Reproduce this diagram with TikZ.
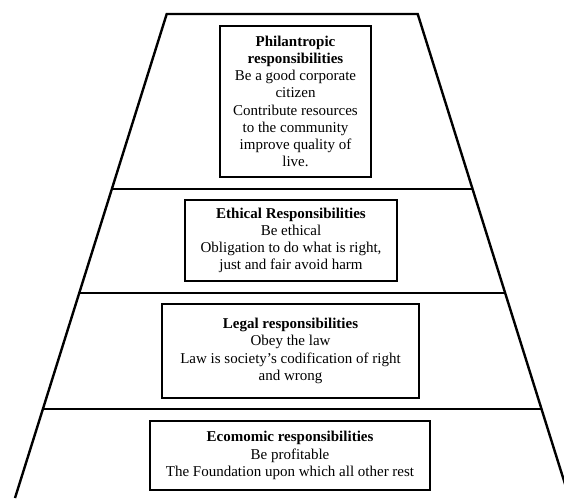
\documentclass[tikz,border=0pt]{standalone}
\usepackage{fontspec}
\setmainfont{Liberation Serif}
\begin{document}
\begin{tikzpicture}[x=1pt,y=-1pt,
  side/.style={line width=2.4pt, line join=miter},
  divider/.style={line width=1.8pt},
  tierbox/.style={draw, line width=2.2pt, inner sep=0pt, align=center,
    font=\fontsize{15}{17.25}\selectfont},
]
\useasboundingbox (0,0) rectangle (564,498);

% pyramid outline and tier dividers
\begin{scope}
  \clip (0,0) rectangle (564,498);
  \coordinate (tl) at (166.7,14);
  \coordinate (tr) at (417.7,14);
  \coordinate (bl) at (15.0,498);
  \coordinate (br) at (569.4,498);
  \coordinate (l1) at (111.9,189);
  \coordinate (r1) at (472.5,189);
  \coordinate (l2) at (79.3,293);
  \coordinate (r2) at (505.1,293);
  \coordinate (l3) at (42.9,409);
  \coordinate (r3) at (541.5,409);
  \draw[divider] (l1) -- (r1);
  \draw[divider] (l2) -- (r2);
  \draw[divider] (l3) -- (r3);
  \draw[side] (bl) -- (tl) -- (tr) -- (br);
\end{scope}

% tier labels
\node[tierbox, minimum width=151pt, minimum height=151pt] (phil) at (295.5,101.5)
  {\textbf{Philantropic}\\ \textbf{responsibilities}\\ Be a good corporate\\ citizen\\
   Contribute resources\\ to the community\\ improve quality of\\ live.};
\node[tierbox, minimum width=212pt, minimum height=81pt] (eth) at (291,240.5)
  {\textbf{Ethical Responsibilities}\\ Be ethical\\ Obligation to do what is right,\\
   just and fair avoid harm};
\node[tierbox, minimum width=257pt, minimum height=94pt] (leg) at (290.5,351)
  {\textbf{Legal responsibilities}\\ Obey the law\\ Law is society’s codification of right\\
   and wrong};
\node[tierbox, minimum width=280pt, minimum height=69pt] (eco) at (290,455.5)
  {\textbf{Ecomomic responsibilities}\\ Be profitable\\ The Foundation upon which all other rest};
\end{tikzpicture}
\end{document}
